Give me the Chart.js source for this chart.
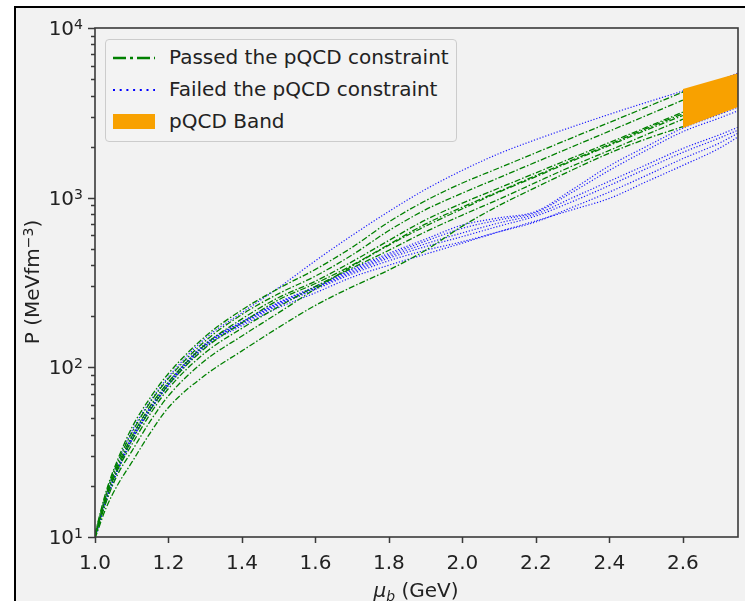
<!DOCTYPE html>
<html>
<head>
<meta charset="utf-8">
<script src="https://cdn.jsdelivr.net/npm/chart.js@4.4.0/dist/chart.umd.min.js"></script>
<style>
html,body{margin:0;padding:0;background:#ffffff;width:745px;height:601px;overflow:hidden;font-family:"DejaVu Sans",sans-serif;}
#frame{position:absolute;left:14px;top:6px;width:800px;height:700px;border:2px solid #000;background:#f2f2f2;}
#wrap{position:absolute;left:0;top:0;width:745px;height:601px;}
#legend{position:absolute;left:105px;top:39px;width:350px;height:101px;border:1px solid #cccccc;border-radius:4px;background:#f3f3f3;}
.row{position:absolute;left:0;width:350px;height:32px;}
.row svg{position:absolute;left:6px;top:11px;}
.row span{position:absolute;left:63px;top:3px;font-size:20px;color:#222;white-space:nowrap;line-height:24px;}
#ytitle{position:absolute;left:-68px;top:270px;width:200px;text-align:center;font-size:20px;line-height:24px;color:#222;transform:rotate(-90deg);white-space:nowrap;}
#xtitle{position:absolute;left:316px;top:578px;width:200px;text-align:center;font-size:20px;line-height:24px;color:#222;white-space:nowrap;}
sup{font-size:14px;vertical-align:6px;line-height:0;}
sub{font-size:14px;vertical-align:-4px;line-height:0;}
</style>
</head>
<body>
<div id="frame"></div>
<div id="wrap"><canvas id="c" width="745" height="601"></canvas></div>
<div id="legend">
  <div class="row" style="top:2px"><svg width="44" height="10"><line x1="1" y1="5" x2="43" y2="5" stroke="#008000" stroke-width="2.6" stroke-dasharray="13,4,3,4"/></svg><span>Passed the pQCD constraint</span></div>
  <div class="row" style="top:34px"><svg width="44" height="10"><line x1="1" y1="5" x2="43" y2="5" stroke="#0000ff" stroke-width="2" stroke-dasharray="2,4.7"/></svg><span>Failed the pQCD constraint</span></div>
  <div class="row" style="top:66px"><svg width="44" height="16" style="top:8px"><rect x="1" y="0" width="42" height="15" fill="#f8a100"/></svg><span>pQCD Band</span></div>
</div>
<div id="ytitle">P (MeVfm<sup>−3</sup>)</div>
<div id="xtitle"><i>μ</i><sub><i>b</i></sub> (GeV)</div>
<script>
// ---- data ----
const muB = [1.0, 1.03, 1.06, 1.1, 1.15, 1.2, 1.3, 1.4, 1.5, 1.6, 1.7, 1.8, 1.9, 2.0, 2.1, 2.2, 2.3, 2.4, 2.5, 2.6, 2.7, 2.75];

// passed curves (end at mu_b = 2.6)
const passed1 = [10.5, 18.5, 28, 44, 66, 92, 152, 218, 292, 378, 510, 720, 960, 1220, 1498, 1840, 2260, 2775, 3410, 4190];
const passed2 = [10.3, 18, 27, 41, 62, 86, 143, 205, 272, 345, 460, 640, 850, 1064, 1313, 1620, 2000, 2467, 3045, 3757];
const passed3 = [10.2, 17.5, 26, 39, 59, 82, 136, 193, 258, 322, 420, 560, 740, 929, 1141, 1401, 1720, 2113, 2595, 3192];
const passed4 = [10.1, 17.2, 25.3, 37, 56, 79, 130, 183, 250, 312, 400, 530, 700, 880, 1090, 1350, 1670, 2060, 2550, 3120];
const passed5 = [10, 16.8, 24.5, 35, 53, 75, 122, 170, 228, 300, 385, 490, 630, 790, 980, 1230, 1540, 1900, 2350, 2900];
const passed6 = [9.9, 16, 23, 32, 48, 68, 110, 153, 210, 290, 395, 525, 680, 860, 1080, 1330, 1650, 2030, 2500, 3050];
const passed7 = [9.8, 14.8, 20, 27.5, 41, 58, 90, 125, 172, 232, 298, 375, 490, 680, 900, 1150, 1460, 1830, 2220, 2620];

// failed curves (run to mu_b = 2.75)
const failed1 = [10.2, 17.8, 27, 42, 63, 88, 148, 210, 295, 425, 600, 830, 1120, 1450, 1820, 2200, 2620, 3100, 3640, 4250, 4950, 5420];
const failed2 = [10, 16.8, 25, 39, 58, 82, 138, 186, 242, 300, 380, 470, 570, 690, 760, 830, 1120, 1540, 2000, 2570, 3100, 3420];
const failed3 = [10, 16.6, 24.8, 38.5, 57.5, 81, 137, 185, 240, 297, 375, 460, 555, 660, 740, 820, 1080, 1450, 1900, 2450, 2950, 3250];
const failed4 = [10, 16.5, 24.5, 38, 57, 80, 136, 184, 238, 295, 368, 450, 535, 620, 710, 800, 1000, 1250, 1560, 1950, 2350, 2600];
const failed5 = [10, 16.4, 24.3, 37.8, 56.5, 79.5, 135, 182, 235, 292, 362, 440, 515, 590, 680, 780, 950, 1180, 1480, 1850, 2250, 2500];
const failed6 = [10, 16.3, 24, 37.5, 56, 79, 134, 180, 232, 288, 355, 425, 490, 550, 630, 720, 880, 1080, 1350, 1700, 2100, 2400];
const failed7 = [10, 16.2, 24, 37, 55.5, 78, 132, 176, 225, 275, 340, 400, 465, 540, 630, 730, 850, 990, 1240, 1550, 1960, 2280];

// pQCD band
const bandMu = [2.6, 2.75];
const bandLow = [2570, 3420];
const bandHigh = [4365, 5420];

// ticks
const xTickValues = [1.0, 1.2, 1.4, 1.6, 1.8, 2.0, 2.2, 2.4, 2.6];
const yDecades = [10, 100, 1000, 10000];

// ---- build datasets ----
const toPts = (xs, ys) => ys.map((v, i) => ({x: xs[i], y: v}));
const passedList = [passed1, passed2, passed3, passed4, passed5, passed6, passed7];
const failedList = [failed1, failed2, failed3, failed4, failed5, failed6, failed7];

const datasets = [
  {data: toPts(bandMu, bandLow), borderWidth: 0, borderColor: 'rgba(0,0,0,0)', fill: false, pointRadius: 0},
  {data: toPts(bandMu, bandHigh), borderWidth: 0, borderColor: 'rgba(0,0,0,0)', backgroundColor: '#f8a100', fill: '-1', pointRadius: 0}
];
passedList.forEach(arr => datasets.push({
  data: toPts(muB, arr), borderColor: '#008000', borderWidth: 1.3, borderDash: [6, 2, 1.5, 2],
  fill: false, pointRadius: 0, cubicInterpolationMode: 'monotone'
}));
failedList.forEach(arr => datasets.push({
  data: toPts(muB, arr), borderColor: '#1a1aff', borderWidth: 1.2, borderDash: [1.2, 1.8],
  fill: false, pointRadius: 0, cubicInterpolationMode: 'monotone'
}));

const axisColor = '#3a3a3a';
const FONT = '"DejaVu Sans", sans-serif';
const boxPlugin = {
  id: 'boxAxes',
  afterDraw(chart) {
    const {ctx, chartArea: a, scales: {x, y}} = chart;
    ctx.save();
    ctx.strokeStyle = axisColor;
    ctx.lineWidth = 1.5;
    ctx.beginPath();
    xTickValues.forEach(v => {
      const px = Math.round(x.getPixelForValue(v)) + 0.5;
      ctx.moveTo(px, a.bottom); ctx.lineTo(px, a.bottom + 6);
    });
    for (let d = 10; d < 10000; d *= 10) {
      for (let m = 1; m <= 9; m++) {
        const py = Math.round(y.getPixelForValue(m * d)) + 0.5;
        const len = m === 1 ? 7 : 4;
        ctx.moveTo(a.left - len, py); ctx.lineTo(a.left, py);
      }
    }
    const pTop = Math.round(y.getPixelForValue(10000)) + 0.5;
    ctx.moveTo(a.left - 7, pTop); ctx.lineTo(a.left, pTop);
    ctx.stroke();
    ctx.lineWidth = 1.6;
    ctx.strokeRect(a.left, a.top, a.right - a.left, a.bottom - a.top);

    // y tick labels: 10 with raised exponent
    ctx.fillStyle = '#222';
    ctx.textAlign = 'left';
    ctx.textBaseline = 'alphabetic';
    yDecades.forEach(v => {
      const py = y.getPixelForValue(v);
      const e = String(Math.round(Math.log10(v)));
      ctx.font = '20px ' + FONT;
      const w1 = ctx.measureText('10').width;
      ctx.font = '14px ' + FONT;
      const w2 = ctx.measureText(e).width;
      const x0 = a.left - 12 - w1 - w2;
      ctx.font = '20px ' + FONT;
      ctx.fillText('10', x0, py + 7);
      ctx.font = '14px ' + FONT;
      ctx.fillText(e, x0 + w1, py + 1);
    });
    ctx.restore();
  }
};

new Chart(document.getElementById('c'), {
  type: 'line',
  data: {datasets},
  plugins: [boxPlugin],
  options: {
    responsive: false,
    animation: false,
    devicePixelRatio: 1,
    layout: {padding: {top: 28, right: 7, left: 0, bottom: 0}},
    plugins: {legend: {display: false}, tooltip: {enabled: false}},
    elements: {point: {radius: 0}},
    scales: {
      x: {
        type: 'linear', min: 1.0, max: 2.75,
        afterFit: s => { s.height = 64; },
        afterBuildTicks: s => { s.ticks = xTickValues.map(v => ({value: v})); },
        grid: {display: false}, border: {display: false},
        ticks: {
          padding: 7, color: '#222', autoSkip: false, maxRotation: 0,
          font: {family: 'DejaVu Sans', size: 20},
          callback: v => Number(v).toFixed(1)
        }
      },
      y: {
        type: 'logarithmic', min: 10, max: 10000,
        afterFit: s => { s.width = 95; },
        grid: {display: false}, border: {display: false},
        ticks: {display: false}
      }
    }
  }
});
</script>
</body>
</html>
